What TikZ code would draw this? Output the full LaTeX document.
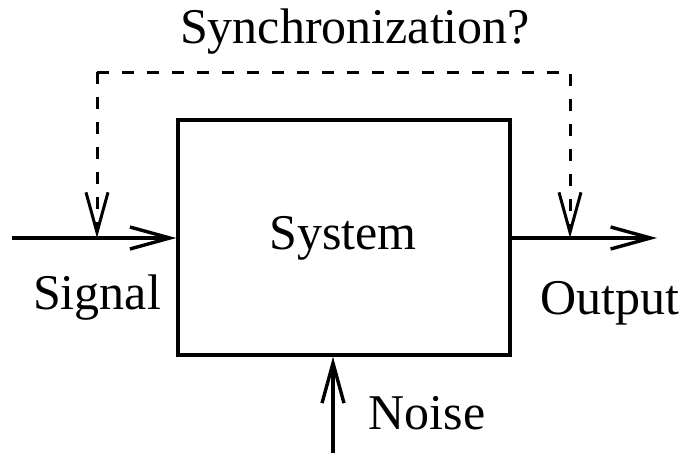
\documentclass[tikz,border=0pt]{standalone}
\usepackage{fontspec}
\setmainfont{Liberation Serif}
\usetikzlibrary{arrows.meta}
\begin{document}
\begin{tikzpicture}[x=1pt,y=-1pt,
  lbl/.style={font=\fontsize{50}{54}\selectfont, inner sep=0pt},
  wire/.style={line width=3.4pt, -{Straight Barb[length=40pt,width=22pt,line width=3.4pt]}},
  dash wire/.style={line width=3pt, dash pattern=on 12pt off 13pt, -{Straight Barb[length=40pt,width=22pt,line width=3pt]}}]
\useasboundingbox (0,0) rectangle (687,456);
\node[draw, line width=3.4pt, minimum width=332pt, minimum height=235pt, inner sep=0pt] (sys) at (344,237.5) {};
\node[lbl] (systxt) at (343,238) {System};
\coordinate (inS) at (12,238);
\coordinate (outE) at (657,238);
\coordinate (sin) at (97,238);
\coordinate (sout) at (570,238);
\coordinate (tl) at (97,72);
\coordinate (tr) at (570,72);
\coordinate (nz) at (333,453);
\draw[wire] (inS) -- (sys.west |- inS);
\draw[wire] (sys.east |- outE) -- (outE);
\draw[wire] (nz) -- (nz |- sys.south);
\draw[dash wire] (tl) -- (sin);
\draw[dash wire] (tl) -- (tr) -- (sout);
\node[lbl] (sync) at (355,32) {Synchronization?};
\node[lbl] (sig) at (97,298) {Signal};
\node[lbl] (out) at (610,303) {Output};
\node[lbl] (noise) at (427,413) {Noise};
\end{tikzpicture}
\end{document}
